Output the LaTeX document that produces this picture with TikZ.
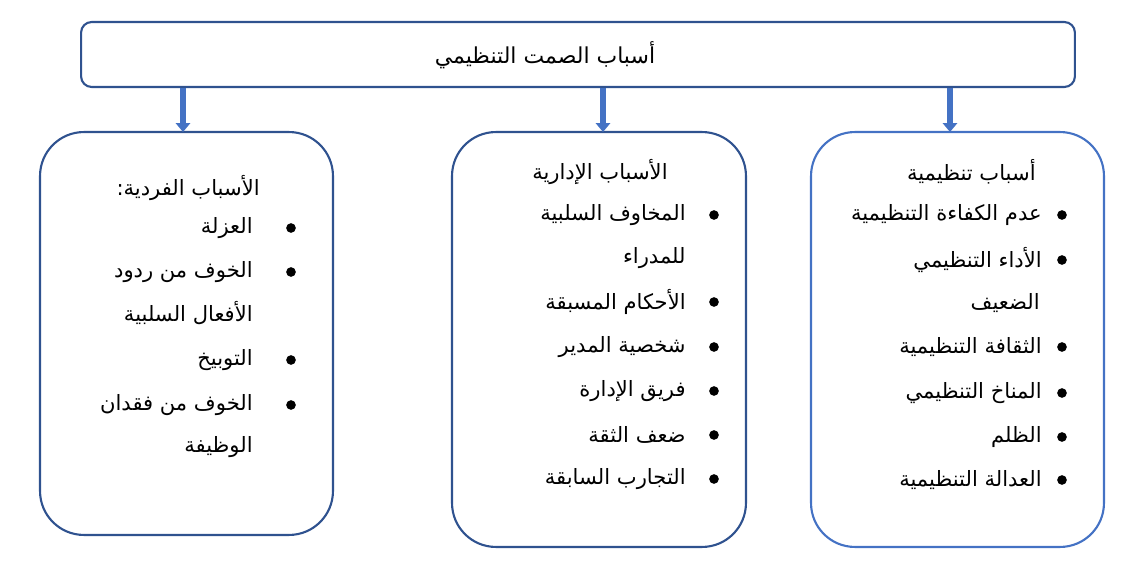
\documentclass[tikz,border=0pt]{standalone}
\usepackage{fontspec}
\TeXXeTstate=1
\newfontfamily\arabicfont[Script=Arabic]{DejaVu Sans}
\usetikzlibrary{arrows.meta,positioning}
\definecolor{boxdark}{RGB}{47,82,143}
\definecolor{boxlight}{RGB}{68,114,196}
\definecolor{arrowblue}{RGB}{68,114,196}
\newcommand{\artxt}[1]{{\arabicfont\beginR #1\endR}}

\begin{document}
\begin{tikzpicture}[x=0.02cm,y=-0.02cm,
  causebox/.style={draw=boxdark,line width=1.2pt,rounded corners=25pt,inner sep=0pt},
  itemline/.style={anchor=east,inner sep=0pt,font=\fontsize{12}{14}\selectfont},
  dot/.style={circle,fill=black,inner sep=0pt,minimum size=5.5pt},
  down/.style={-{Triangle[width=8pt,length=5pt]},line width=3.4pt,arrowblue}]
  \useasboundingbox (0,0) rectangle (1144,567);
  % Top: main box
  \node[draw=boxdark,line width=1.2pt,rounded corners=6pt,minimum width=19.88cm,minimum height=1.3cm] (main) at (578,54.5) {};
  \node[inner sep=0pt,font=\fontsize{12.5}{14}\selectfont] (title) at (545,55) {\artxt{أسباب الصمت التنظيمي}};
  % Three boxes
  \node[causebox,minimum width=5.86cm,minimum height=8.06cm] (indiv) at (186.5,333.5) {};
  \node[causebox,minimum width=5.88cm,minimum height=8.3cm] (admin) at (599,339.5) {};
  \node[causebox,draw=boxlight,minimum width=5.86cm,minimum height=8.3cm] (org) at (957.5,339.5) {};
  % Arrows
  \coordinate (inIndiv) at (183,132);
  \coordinate (inAdmin) at (603,132);
  \coordinate (inOrg) at (950,132);
  \draw[down] (main.south -| inIndiv) -- (inIndiv);
  \draw[down] (main.south -| inAdmin) -- (inAdmin);
  \draw[down] (main.south -| inOrg) -- (inOrg);
  % Right: organisational causes
  \node[itemline] (orgHead) at (1036,172) {\artxt{أسباب تنظيمية}};
  \node[itemline] (org1) at (1042,215) {\artxt{عدم الكفاءة التنظيمية}};
  \node[itemline] (org2) at (1042,260) {\artxt{الأداء التنظيمي}};
  \node[itemline] (org2b) at (1040,303) {\artxt{الضعيف}};
  \node[itemline] (org3) at (1042,347) {\artxt{الثقافة التنظيمية}};
  \node[itemline] (org4) at (1042,393) {\artxt{المناخ التنظيمي}};
  \node[itemline] (org5) at (1042,437) {\artxt{الظلم}};
  \node[itemline] (org6) at (1042,480) {\artxt{العدالة التنظيمية}};
  \foreach \n in {org1,org2,org3,org4,org5,org6}
    \node[dot] at ([xshift=0.4cm]\n.east) {};
  % Middle: administrative causes
  \node[itemline] (admHead) at (668,172) {\artxt{الأسباب الإدارية}};
  \node[itemline] (adm1) at (686,215) {\artxt{المخاوف السلبية}};
  \node[itemline] (adm1b) at (686,258) {\artxt{للمدراء}};
  \node[itemline] (adm2) at (686,302) {\artxt{الأحكام المسبقة}};
  \node[itemline] (adm3) at (686,347) {\artxt{شخصية المدير}};
  \node[itemline] (adm4) at (686,391) {\artxt{فريق الإدارة}};
  \node[itemline] (adm5) at (686,435) {\artxt{ضعف الثقة}};
  \node[itemline] (adm6) at (686,479) {\artxt{التجارب السابقة}};
  \foreach \n in {adm1,adm2,adm3,adm4,adm5,adm6}
    \node[dot] at ([xshift=0.56cm]\n.east) {};
  % Left: individual causes
  \node[itemline] (indHead) at (260,188) {\artxt{الأسباب الفردية:}};
  \node[itemline] (ind1) at (253,228) {\artxt{العزلة}};
  \node[itemline] (ind2) at (253,272) {\artxt{الخوف من ردود}};
  \node[itemline] (ind2b) at (253,313) {\artxt{الأفعال السلبية}};
  \node[itemline] (ind3) at (253,360) {\artxt{التوبيخ}};
  \node[itemline] (ind4) at (253,405) {\artxt{الخوف من فقدان}};
  \node[itemline] (ind4b) at (253,447) {\artxt{الوظيفة}};
  \foreach \n in {ind1,ind2,ind3,ind4}
    \node[dot] at ([xshift=0.76cm]\n.east) {};
\end{tikzpicture}
\end{document}
